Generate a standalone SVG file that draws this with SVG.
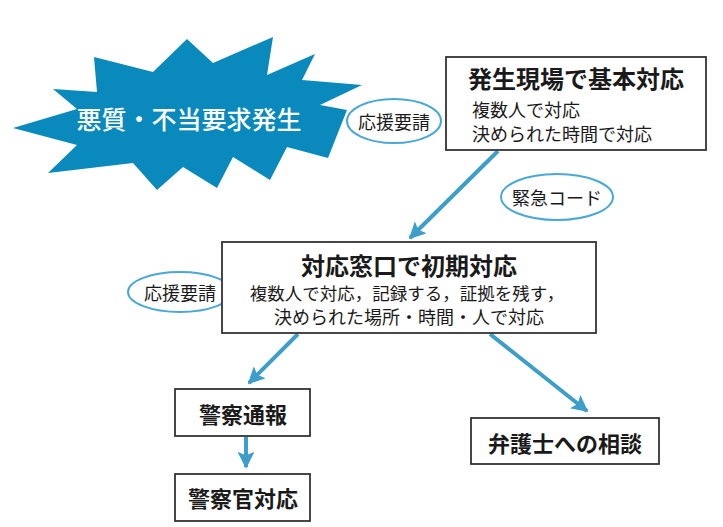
<svg xmlns="http://www.w3.org/2000/svg" width="723" height="527" viewBox="0 0 723 527">
<style>
.box{fill:#fff;stroke:#333;stroke-width:1.8}
.ell{fill:#fff;stroke:#4aa8d6;stroke-width:2}
.t{font-family:"Noto Sans CJK JP","Noto Sans",sans-serif;fill:#1a1a1a;text-anchor:middle;dominant-baseline:central}
.title{font-size:23px;font-weight:bold}
.sub{font-size:17.5px}
.lab{font-size:18px}
.conn{stroke:#3c9ec9;stroke-width:4;fill:none;marker-end:url(#ah)}
</style>
<defs>
<marker id="ah" viewBox="0 0 10 10" refX="9" refY="5" markerWidth="4.2" markerHeight="4.2" orient="auto" markerUnits="strokeWidth">
<path d="M0,0 L10,5 L0,10 L2,5 z" fill="#3c9ec9"/>
</marker>
</defs>
<rect width="723" height="527" fill="#fff"/>
<g id="burst">
<polygon fill="#0a89bd" points="13,128 77,109 53,89 97,92 94,57 153,72 187,39 213,63 273,37 267,75 315,54 302,80 362,85 320,105 347,110 328,158 287,147 270,180 233,157 217,188 183,167 157,190 133,163 48,173 77,145"/>
<text class="t" x="189" y="118" style="font-size:25px;fill:#fff;font-weight:500">悪質・不当要求発生</text>
</g>
<g id="connectors">
<line class="conn" x1="498" y1="151" x2="410" y2="238"/>
<line class="conn" x1="298" y1="334" x2="249" y2="383"/>
<line class="conn" x1="490" y1="334" x2="587" y2="411"/>
<line class="conn" x1="246" y1="437" x2="246" y2="467"/>
</g>
<g id="ellipse-request1">
<ellipse class="ell" cx="394" cy="121" rx="47" ry="22"/>
<text class="t lab" x="394" y="121">応援要請</text>
</g>
<g id="ellipse-emergency">
<ellipse class="ell" cx="557" cy="197" rx="56" ry="23"/>
<text class="t lab" x="557" y="197">緊急コード</text>
</g>
<g id="ellipse-request2">
<ellipse class="ell" cx="180" cy="292" rx="52" ry="20"/>
<text class="t lab" x="180" y="292">応援要請</text>
</g>
<g id="node-site">
<rect class="box" x="446" y="57" width="260" height="93"/>
<text class="t title" x="576" y="77" style="font-size:24px">発生現場で基本対応</text>
<text class="t sub" style="text-anchor:start;font-size:18px"><tspan x="472" y="109">複数人で対応</tspan><tspan x="472" y="133">決められた時間で対応</tspan></text>
</g>
<g id="node-window">
<rect class="box" x="222" y="242" width="374" height="91"/>
<text class="t title" x="409" y="264" style="font-size:24px">対応窓口で初期対応</text>
<text class="t sub"><tspan x="407" y="292">複数人で対応，記録する，証拠を残す，</tspan><tspan x="409" y="316" style="font-size:18px">決められた場所・時間・人で対応</tspan></text>
</g>
<g id="node-police">
<rect class="box" x="175" y="389" width="135" height="47"/>
<text class="t title" x="243" y="413" style="font-size:22px">警察通報</text>
</g>
<g id="node-officer">
<rect class="box" x="175" y="474" width="135" height="47"/>
<text class="t title" x="243" y="497" style="font-size:22px">警察官対応</text>
</g>
<g id="node-lawyer">
<rect class="box" x="471" y="418" width="188" height="46"/>
<text class="t title" x="565" y="442" style="font-size:22px">弁護士への相談</text>
</g>
</svg>
